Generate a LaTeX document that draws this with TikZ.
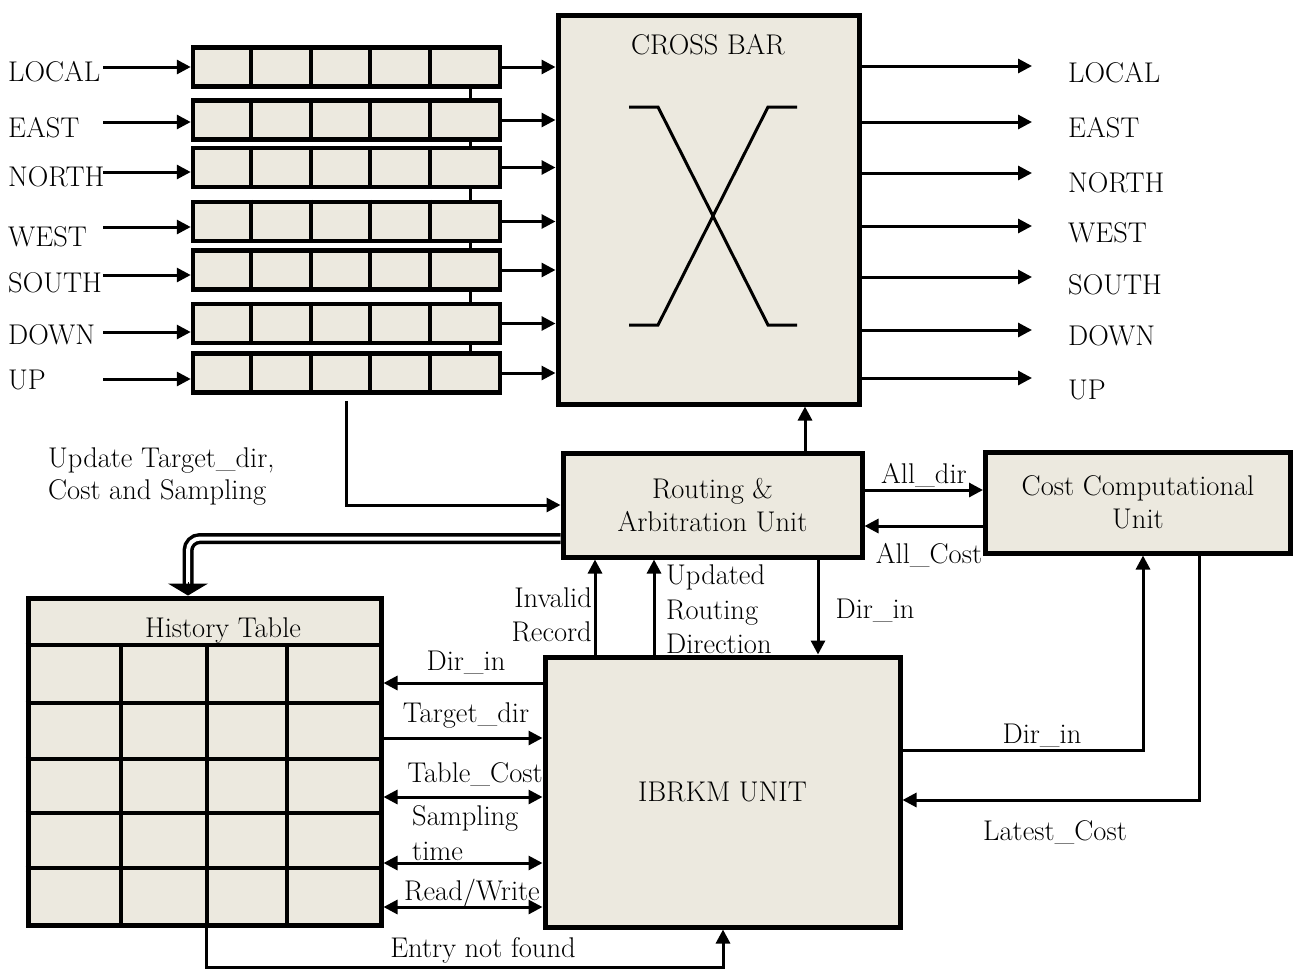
\documentclass[tikz,border=0pt]{standalone}
\usetikzlibrary{arrows.meta,calc}
\definecolor{boxfill}{RGB}{236,233,223}
\begin{document}
\begin{tikzpicture}[x=1pt,y=-1pt,
  every node/.style={font=\fontsize{28.5}{33}\selectfont, inner sep=0pt},
  blk/.style={draw, fill=boxfill, line width=5pt},
  bufbox/.style={draw, fill=boxfill, line width=4.5pt, minimum width=307pt, minimum height=39pt},
  cellline/.style={line width=4pt},
  wire/.style={line width=3pt},
  arr/.style={wire, -{Triangle[length=14pt,width=14pt]}},
  darr/.style={wire, {Triangle[length=14pt,width=14pt]}-{Triangle[length=14pt,width=14pt]}},
  dbl/.style={draw=black, line width=3.5pt, double=white, double distance=4pt},
]
\useasboundingbox (0,0) rectangle (1293,970);

% bus line behind the buffers
\coordinate (bustop) at (470,67);
\coordinate (busbot) at (470,373);
\draw[wire] (bustop) -- (busbot);

% input buffers
\foreach \i/\y in {1/67,2/120,3/167.5,4/221.5,5/270,6/323.5,7/373}{
  \node[bufbox] (buf\i) at (346.5,\y) {};
  \foreach \x in {251,311,370,430}{
    \draw[cellline] (buf\i.north -| \x,0) -- (buf\i.south -| \x,0);
  }
}

% input labels and arrows
\foreach \i/\t/\ly/\ay in {1/LOCAL/81/67, 2/EAST/137/122, 3/NORTH/186/172, 4/WEST/246/227, 5/SOUTH/292/275, 6/DOWN/344/332, 7/UP/389/379}{
  \node[anchor=base west] (in\i) at (8,\ly) {\t};
  \coordinate (ins\i) at (103,\ay);
  \draw[arr] (ins\i) -- (buf\i.west |- ins\i);
}

% crossbar
\node[blk, minimum width=301pt, minimum height=389pt] (cb) at (708.5,209.5) {};
\node[anchor=base] (cbt) at (708,54) {CROSS BAR};
\draw[line width=3pt] (629,107) -- (658,107) -- (768,325) -- (797,325);
\draw[line width=3pt] (629,325) -- (658,325) -- (768,107) -- (797,107);

% buffer to crossbar
\foreach \i in {1,...,7}{
  \draw[arr] (buf\i.east) -- (cb.west |- buf\i.east);
}

% outputs
\foreach \i/\t/\ay/\ly in {1/LOCAL/66/82, 2/EAST/122/137, 3/NORTH/173/192, 4/WEST/226/242, 5/SOUTH/277/294, 6/DOWN/330/345, 7/UP/378/399}{
  \coordinate (oe\i) at (1032,\ay);
  \draw[arr] (cb.east |- oe\i) -- (oe\i);
  \node[anchor=base west] (out\i) at (1068,\ly) {\t};
}

% routing & arbitration unit
\node[blk, minimum width=299pt, minimum height=104pt, align=center] (rau) at (712.5,505) {Routing \&\\Arbitration Unit};
\draw[arr] (rau.north -| 805,0) -- (cb.south -| 805,0);
\draw[arr] ([yshift=-6pt]buf7.south) |- (rau.west);

% cost computational unit
\node[blk, minimum width=305pt, minimum height=101pt, align=center] (ccu) at (1138,502.5) {Cost Computational\\Unit};
\draw[arr] (rau.east |- 0,490) -- (ccu.west |- 0,490);
\node[anchor=base] (lalldir) at (924,483) {All\_dir};
\draw[arr] (ccu.west |- 0,526) -- (rau.east |- 0,526);
\node[anchor=base] (lallcost) at (929,563) {All\_Cost};

% IBRKM unit
\node[blk, minimum width=355pt, minimum height=270pt] (ib) at (722.5,792) {IBRKM UNIT};

% arrows between IBRKM and routing unit
\draw[arr] (ib.north -| 595,0) -- (rau.south -| 595,0);
\node[anchor=base east] (linv1) at (592,607) {Invalid};
\node[anchor=base east] (linv2) at (592,641) {Record};
\draw[arr] (ib.north -| 654,0) -- (rau.south -| 654,0);
\node[anchor=base west] (lupd1) at (666,584) {Updated};
\node[anchor=base west] (lupd2) at (666,619) {Routing};
\node[anchor=base west] (lupd3) at (666,653) {Direction};
\draw[arr] (rau.south -| 818,0) -- (ib.north -| 818,0);
\node[anchor=base] (ldirtop) at (875,618) {Dir\_in};

% history table
\node[blk, minimum width=353pt, minimum height=327pt] (ht) at (204.5,761.5) {};
\node[anchor=base] (htt) at (223,637) {History Table};
\foreach \y in {645,703,759,813,868}{
  \draw[cellline] (ht.west |- 0,\y) -- (ht.east |- 0,\y);
}
\foreach \x in {121,207,287}{
  \draw[cellline] (\x,645) -- (ht.south -| \x,0);
}

% update double arrow
\coordinate (dblend) at (188,584);
\draw[dbl, rounded corners=12pt] (rau.west |- 0,538.5) -| (dblend);
\draw[line width=1pt, -{Triangle[width=40pt,length=12pt]}] ([yshift=2pt]dblend) -- (ht.north -| dblend);
\node[anchor=base west] (lupdate1) at (48,467) {Update Target\_dir,};
\node[anchor=base west] (lupdate2) at (48,499) {Cost and Sampling};

% table <-> IBRKM
\draw[arr] (ib.west |- 0,683) -- (ht.east |- 0,683);
\node[anchor=base] (ldir) at (466,670) {Dir\_in};
\draw[arr] (ht.east |- 0,738) -- (ib.west |- 0,738);
\node[anchor=base] (ltgt) at (466,722) {Target\_dir};
\draw[darr] (ht.east |- 0,797) -- (ib.west |- 0,797);
\node[anchor=base] (ltc) at (475,782) {Table\_Cost};
\draw[darr] (ht.east |- 0,863) -- (ib.west |- 0,863);
\node[anchor=base west] (ls1) at (412,825) {Sampling};
\node[anchor=base west] (ls2) at (412,860) {time};
\draw[darr] (ht.east |- 0,907) -- (ib.west |- 0,907);
\node[anchor=base] (lrw) at (472,900) {Read/Write};

% entry not found
\coordinate (encorner) at (206,967);
\draw[arr] (ht.south -| 206,0) -- (encorner) -| (ib.south -| 723,0);
\node[anchor=base] (lent) at (483,957) {Entry not found};

% IBRKM <-> cost unit
\draw[arr] (ib.east |- 0,750) -| (ccu.south -| 1143,0);
\node[anchor=base] (ldirr) at (1042,743) {Dir\_in};
\draw[arr] (ccu.south -| 1199,0) |- (ib.east |- 0,800);
\node[anchor=base] (llat) at (1055,840) {Latest\_Cost};
\end{tikzpicture}
\end{document}
